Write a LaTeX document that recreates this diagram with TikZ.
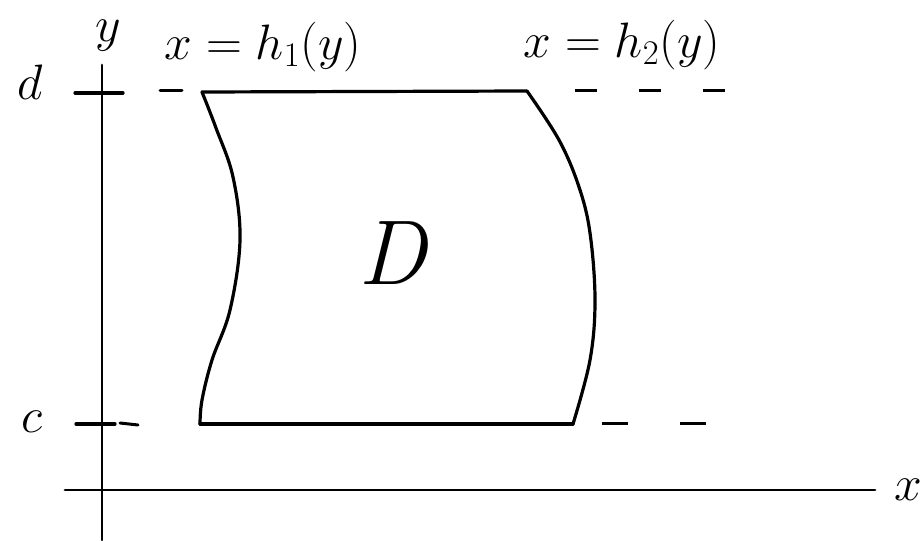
\documentclass[tikz,border=0pt]{standalone}
\begin{document}
\begin{tikzpicture}[x=0.5pt,y=-0.5pt,
  stroke/.style={line width=1.6pt,line cap=round,line join=round},
  dashline/.style={line width=1.5pt,dash pattern=on 11pt off 21pt},
  lbl/.style={inner sep=0pt,font=\fontsize{24}{28}\selectfont}]
\useasboundingbox (0,0) rectangle (924,540);
% axes
\coordinate (ytop) at (102,65);
\coordinate (ybot) at (102,540);
\coordinate (xl) at (65,490);
\coordinate (xr) at (875,490);
\draw[stroke,line width=1.4pt] (ybot) -- (ytop);
\draw[stroke,line width=1.4pt] (xl) -- (xr);
\node[lbl] (ylab) at (108,36) {$y$};
\node[lbl] (xlab) at (908,490) {$x$};
% level ticks
\coordinate (dt1) at (75,93);
\coordinate (dt2) at (123,93);
\coordinate (ct1) at (76,424);
\coordinate (ct2) at (115,424);
\draw[stroke] (dt1) -- (dt2);
\draw[stroke] (ct1) -- (ct2);
\node[lbl,font=\fontsize{26}{30}\selectfont] (dlab) at (30,82) {$d$};
\node[lbl] (clab) at (32,422) {$c$};
% region corners
\coordinate (TL) at (202,92);
\coordinate (TR) at (527,91);
\coordinate (BR) at (573,424);
\coordinate (BL) at (200,424);
% dashed guides
\coordinate (dd1) at (160,91);
\coordinate (dd2) at (182,91);
\draw[stroke,line width=1.5pt] (dd1) -- (dd2);
\coordinate (dr1) at (575,91);
\coordinate (dr2) at (725,91);
\draw[dashline] (dr1) -- (dr2);
\coordinate (cd1) at (120,423);
\coordinate (cd2) at (138,425);
\draw[stroke,line width=1.5pt] (cd1) -- (cd2);
\coordinate (cr1) at (602,423);
\coordinate (cr2) at (720,423);
\draw[line width=1.5pt,dash pattern=on 13pt off 26pt] (cr1) -- (cr2);
% region boundary
\draw[stroke] (TL) -- (TR);
\draw[stroke] (BL) -- (BR);
\draw[stroke] plot[smooth,tension=0.6] coordinates {(202,92) (216,128) (233,177) (240,240) (230,310) (212,360) (202,400) (200,424)};
\draw[stroke] plot[smooth,tension=0.6] coordinates {(527,91) (559,140) (579,187) (590,233) (595,300) (590,360) (573,424)};
% labels
\node[lbl] (h1) at (263,47) {$x=h_1(y)$};
\node[lbl] (h2) at (622,45) {$x=h_2(y)$};
\node[lbl,font=\fontsize{46}{50}\selectfont\itshape] (D) at (392,253) {D};
\end{tikzpicture}
\end{document}
